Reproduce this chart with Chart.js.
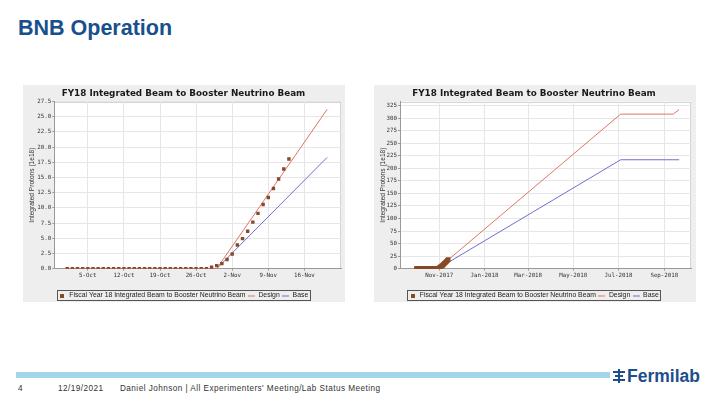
<!DOCTYPE html>
<html><head><meta charset="utf-8">
<script src="https://cdn.jsdelivr.net/npm/chart.js@4.4.1/dist/chart.umd.min.js"></script>
<style>
html,body{margin:0;padding:0;background:#fff;width:720px;height:405px;overflow:hidden;font-family:'Liberation Sans',Arial,sans-serif;}
#title{position:absolute;left:18px;top:15.5px;font-size:21.5px;font-weight:bold;color:#17508c;line-height:24px;}
.panel{position:absolute;top:85px;width:322px;height:217px;background:#eeeeee;}
.panel canvas{display:block}
#p1{left:23px}
#p2{left:374px}
#bar{position:absolute;left:16px;top:372px;width:594px;height:6px;background:#a2d6e8}
.ft{position:absolute;top:384px;font-size:8.2px;color:#333;letter-spacing:0.45px;white-space:nowrap}
#logo{position:absolute;left:613px;top:366px;height:20px;display:flex;align-items:center;color:#1d4f8c;font-weight:bold;font-size:17.5px}
</style></head>
<body>
<div id="title">BNB Operation</div>
<div class="panel" id="p1"><canvas id="c1" width="322" height="217"></canvas></div>
<div class="panel" id="p2"><canvas id="c2" width="322" height="217"></canvas></div>
<div id="bar"></div>
<div class="ft" style="left:18px">4</div>
<div class="ft" style="left:58px">12/19/2021</div>
<div class="ft" style="left:120px">Daniel Johnson | All Experimenters' Meeting/Lab Status Meeting</div>
<div id="logo"><svg width="12" height="14" viewBox="0 0 12 14"><g fill="#1d4f8c"><rect x="0" y="2" width="12" height="2"/><rect x="0" y="10" width="12" height="2"/><rect x="2" y="6" width="8" height="2"/><rect x="5" y="0" width="2" height="14"/></g></svg><span style="margin-left:2px">Fermilab</span></div>
<script>
// ---- data ----
const beamDays = [1,2,3,4,5,6,7,8,9,10,11,12,13,14,15,16,17,18,19,20,21,22,23,24,25,26,27,28,29,30,31,32,33,34,35,36,37,38,39,40,41,42,43,44];
const beamValues = [0,0,0,0,0,0,0,0,0,0,0,0,0,0,0,0,0,0,0,0,0,0,0,0,0,0,0,0,0.22,0.5,0.83,1.5,2.4,3.9,4.95,6.15,7.65,9.1,10.55,11.7,13.2,14.75,16.4,18.05];
const leftDesignDays = [1,30,51.4];
const leftDesignValues = [0,0,26.2];
const leftBaseDays = [1,30,51.4];
const leftBaseValues = [0,0,18.3];
const rightDesignDays = [1,30,277,348,356];
const rightDesignValues = [0,0,308,308,317];
const rightBaseDays = [1,30,277,356];
const rightBaseValues = [0,0,217,217];
const leftTickDays = [5,12,19,26,33,40,47];
const leftTickLabels = ['5-Oct','12-Oct','19-Oct','26-Oct','2-Nov','9-Nov','16-Nov'];
const rightTickDays = [32,93,152,213,274,336];
const rightTickLabels = ['Nov-2017','Jan-2018','Mar-2018','May-2018','Jul-2018','Sep-2018'];
const leftYTicks = [0,2.5,5,7.5,10,12.5,15,17.5,20,22.5,25,27.5];
const leftYLabels = ['0.0','2.5','5.0','7.5','10.0','12.5','15.0','17.5','20.0','22.5','25.0','27.5'];
const rightYTicks = [0,25,50,75,100,125,150,175,200,225,250,275,300,325];
const rightYLabels = ['0','25','50','75','100','125','150','175','200','225','250','275','300','325'];
const seriesNames = ['Fiscal Year 18 Integrated Beam to Booster Neutrino Beam','Design','Base'];
const chartTitle = 'FY18 Integrated Beam to Booster Neutrino Beam';
const yTitle = 'Integrated Protons (1e18)';

const BROWN = '#864a24', RED = '#e07468', BLUE = '#6e6ed6';

function marker(type, color){
  const c = document.createElement('canvas');
  const x = c.getContext('2d');
  if (type === 'rect'){ c.width = 4; c.height = 4; x.fillStyle = color; x.fillRect(0,0,4,4); }
  else { c.width = 7; c.height = 2; x.fillStyle = color; x.fillRect(0,0.5,7,1); }
  return c;
}
const markers = [marker('rect',BROWN), marker('line',RED), marker('line',BLUE)];

const plotBg = {
  id:'plotBg',
  beforeDraw(chart){
    const a = chart.chartArea, ctx = chart.ctx;
    ctx.save(); ctx.fillStyle = '#ffffff'; ctx.fillRect(a.left, a.top, a.width, a.height);
    ctx.strokeStyle = '#d4d4d4'; ctx.lineWidth = 1;
    ctx.strokeRect(Math.round(a.left)+0.5, Math.round(a.top)+0.5, Math.round(a.width)-1, Math.round(a.height)-1);
    ctx.restore();
  }
};

const legendBox = {
  id:'legendBox',
  afterDraw(chart){
    const hb = chart.legend && chart.legend.legendHitBoxes;
    if (!hb || !hb.length) return;
    let l = Infinity, r = -Infinity, t = Infinity, b = -Infinity;
    hb.forEach(h => { l = Math.min(l,h.left); r = Math.max(r,h.left+h.width); t = Math.min(t,h.top); b = Math.max(b,h.top+h.height); });
    const ctx = chart.ctx;
    ctx.save();
    ctx.strokeStyle = '#555'; ctx.lineWidth = 1;
    ctx.strokeRect(Math.round(l-2)+0.5, Math.round(t-2)+0.5, Math.round(r-l+4), Math.round(b-t+3));
    ctx.restore();
  }
};

function pts(xs, ys){ return xs.map((v,i)=>({x:v, y:ys[i]})); }

function makeChart(id, cfg){
  const tickFont = {family:'DejaVu Sans Mono', size:5.8};
  return new Chart(document.getElementById(id), {
    type:'scatter',
    data:{datasets:[
      {label:seriesNames[0], data:pts(beamDays,beamValues), showLine:false, pointStyle:'rect', pointRadius:cfg.r, backgroundColor:BROWN, borderColor:BROWN, borderWidth:0},
      {label:seriesNames[1], data:pts(cfg.dDays,cfg.dVals), showLine:true, pointRadius:0, borderColor:RED, borderWidth:1, backgroundColor:RED, pointStyle:markers[1]},
      {label:seriesNames[2], data:pts(cfg.bDays,cfg.bVals), showLine:true, pointRadius:0, borderColor:BLUE, borderWidth:1, backgroundColor:BLUE, pointStyle:markers[2]}
    ]},
    options:{
      animation:false, responsive:false, devicePixelRatio:1,
      layout:{padding:{left:3,right:cfg.pr,top:0,bottom:-7}},
      plugins:{
        title:{display:true, text:chartTitle, color:'#1a1a1a', font:{family:'DejaVu Sans', weight:'bold', size:8.8}, padding:{top:3,bottom:3}},
        legend:{position:'bottom', labels:{usePointStyle:true, pointStyleWidth:7, boxHeight:7, color:'#222', font:{family:'Liberation Sans', size:6.85}, padding:2.5,
          generateLabels(chart){
            const items = Chart.defaults.plugins.legend.labels.generateLabels(chart);
            items.forEach((it,i)=>{ it.pointStyle = markers[i]; });
            return items;
          }}},
        tooltip:{enabled:false}
      },
      scales:{
        x:{type:'linear', min:cfg.xmin, max:cfg.xmax,
          afterBuildTicks:s=>{ s.ticks = cfg.xt.map(v=>({value:v})); },
          afterFit:s=>{ s.height = cfg.xh; },
          ticks:{autoSkip:false, maxRotation:0, color:'#333', font:tickFont, padding:1, callback:(v,i)=>cfg.xl[i]},
          grid:{color:'#e6e6e6', tickLength:2, tickColor:'#999'}, border:{color:'#999'}},
        y:{type:'linear', min:0, max:cfg.ymax,
          afterBuildTicks:s=>{ s.ticks = cfg.yt.map(v=>({value:v})); },
          afterFit:s=>{ s.width = cfg.yw; },
          title:{display:true, text:yTitle, color:'#333', font:{family:'Liberation Sans', size:6.6}, padding:{top:2,bottom:0}},
          ticks:{autoSkip:false, color:'#333', font:tickFont, padding:1, callback:(v,i)=>cfg.yl[i]},
          grid:{color:'#e6e6e6', tickLength:2, tickColor:'#999'}, border:{color:'#999'}}
      }
    },
    plugins:[plotBg, legendBox]
  });
}

makeChart('c1', {r:2.4, dDays:leftDesignDays, dVals:leftDesignValues, bDays:leftBaseDays, bVals:leftBaseValues, pr:4,
  xmin:-1.5, xmax:54.1, xt:leftTickDays, xl:leftTickLabels, ymax:27.5, yt:leftYTicks, yl:leftYLabels, yw:28.3, xh:21});
makeChart('c2', {r:3.3, dDays:rightDesignDays, dVals:rightDesignValues, bDays:rightBaseDays, bVals:rightBaseValues, pr:5,
  xmin:-21.1, xmax:372, xt:rightTickDays, xl:rightTickLabels, ymax:333, yt:rightYTicks, yl:rightYLabels, yw:23, xh:21});
</script>
</body></html>
